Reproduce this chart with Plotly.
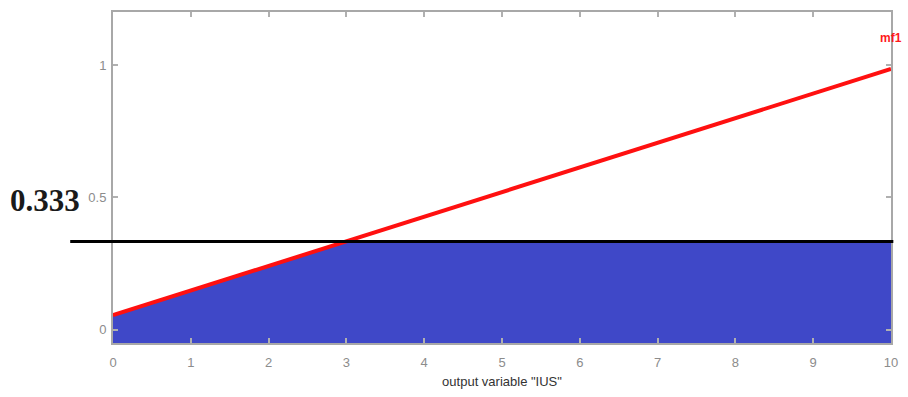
import numpy as np
import plotly.graph_objects as go

# Output membership function "mf1" (linear ramp over the output range)
mf_x = [0, 10]
mf_y = [0.055, 0.985]

# Firing strength used to clip the output set
cut_level = 0.333
cut_label = "0.333"

x_ticks = [0, 1, 2, 3, 4, 5, 6, 7, 8, 9, 10]
y_ticks = [0, 0.5, 1]
y_tick_text = ["0", "0.5", "1"]
x_range = [0, 10]
y_range = [-0.05, 1.2]

# Clipped set: min(mf, cut_level), closed down to the bottom of the axis
slope = (mf_y[1] - mf_y[0]) / (mf_x[1] - mf_x[0])
x_cross = mf_x[0] + (cut_level - mf_y[0]) / slope
fill_x = [mf_x[0], x_cross, mf_x[1], mf_x[1], mf_x[0], mf_x[0]]
fill_y = [mf_y[0], cut_level, cut_level, y_range[0], y_range[0], mf_y[0]]

fig = go.Figure()
fig.add_trace(go.Scatter(
    x=fill_x, y=fill_y, mode="lines", fill="toself",
    fillcolor="#3f48c8", line=dict(width=0), hoverinfo="skip",
))
fig.add_trace(go.Scatter(
    x=mf_x, y=mf_y, mode="lines",
    line=dict(color="#ff1010", width=4),
))

fig.add_annotation(
    x=mf_x[1], y=1.1, text="<b>mf1</b>", showarrow=False,
    font=dict(color="#ff1a1a", size=12, family="Liberation Sans, Arial"),
    xanchor="center", yanchor="middle",
)

# Horizontal cut line, running past the plot area on both sides
fig.add_shape(
    type="line", xref="paper", yref="y",
    x0=-0.055, x1=1.003, y0=cut_level, y1=cut_level,
    line=dict(color="black", width=3),
)
fig.add_annotation(
    xref="paper", yref="paper", x=-0.04, y=0.43,
    text="<b>" + cut_label + "</b>", showarrow=False,
    font=dict(color="#1a1a1a", size=31, family="Liberation Serif, Times New Roman"),
    xanchor="right", yanchor="middle",
)

axis_common = dict(
    showline=True, linecolor="#a8a8a8", linewidth=2, mirror="ticks",
    ticks="inside", ticklen=5, tickwidth=2, tickcolor="#b0b0b0",
    showgrid=False, zeroline=False,
    tickfont=dict(color="#8c8c8c", size=13, family="Liberation Sans, Arial"),
)

fig.update_xaxes(
    range=x_range, tickvals=x_ticks, ticklabelstandoff=6, **axis_common,
    title=dict(text='output variable "IUS"', standoff=8,
               font=dict(color="#333333", size=13, family="Liberation Sans, Arial")),
)
fig.update_yaxes(range=y_range, tickvals=y_ticks, ticktext=y_tick_text,
                 ticklabelstandoff=2, **axis_common)

fig.update_layout(
    width=908, height=397,
    margin=dict(l=113, r=13, t=10, b=54),
    plot_bgcolor="white", paper_bgcolor="white",
    showlegend=False,
)

fig.write_html("out.html")
